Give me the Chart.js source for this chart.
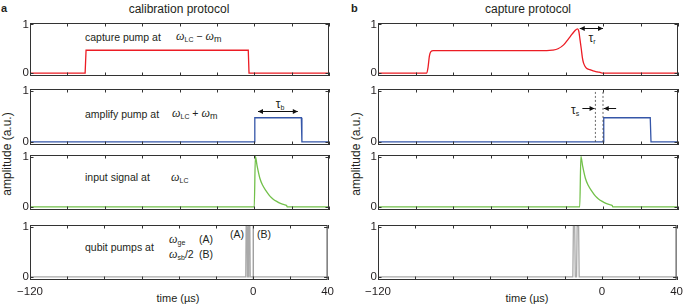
<!DOCTYPE html>
<html>
<head>
<meta charset="utf-8">
<script src="https://cdn.jsdelivr.net/npm/chart.js@4.4.1/dist/chart.umd.min.js"></script>
<style>
  body { margin: 0; background: #fff; }
  #fig { position: relative; width: 687px; height: 306px; overflow: hidden;
         font-family: "Liberation Sans", Arial, sans-serif; color: #231f20; }
  #fig canvas { position: absolute; }
  .t { position: absolute; white-space: nowrap; line-height: 1; transform: translateY(-50%); font-size: 10.5px; }
  .c { transform: translate(-50%, -50%); }
  .w { font-family: "Liberation Serif", serif; font-style: italic; font-size: 12px; }
  .s { font-size: 7px; vertical-align: -2px; font-style: normal; font-family: "Liberation Sans", sans-serif; }
  .ttl { font-size: 12px; }
  .lbl { font-weight: bold; font-size: 11px; }
  .yl { position: absolute; white-space: nowrap; font-size: 12px; transform: translate(-50%, -50%) rotate(-90deg); }
</style>
</head>
<body>
<div id="fig">
  <div class="t lbl" style="left:1px;top:8px">a</div>
  <div class="t lbl" style="left:351px;top:8px">b</div>
  <div class="t ttl c" style="left:179px;top:9px">calibration protocol</div>
  <div class="t ttl c" style="left:528px;top:9px">capture protocol</div>
  <div class="yl" style="left:7px;top:154px">amplitude (a.u.)</div>
  <div class="yl" style="left:356px;top:154px">amplitude (a.u.)</div>
  <div class="t c" style="left:178px;top:298px;font-size:11px">time (µs)</div>
  <div class="t c" style="left:527px;top:298px;font-size:11px">time (µs)</div>

  <div class="t" style="left:85px;top:37px">capture pump at</div>
  <div class="t" style="left:176px;top:37px"><span class="w">ω</span><span class="s">LC</span> − <span class="w">ω</span><span class="s" style="font-size:9px">m</span></div>
  <div class="t" style="left:85px;top:114px">amplify pump at</div>
  <div class="t" style="left:172px;top:114px"><span class="w">ω</span><span class="s">LC</span> + <span class="w">ω</span><span class="s" style="font-size:9px">m</span></div>
  <div class="t" style="left:85px;top:177px">input signal at</div>
  <div class="t" style="left:171px;top:177px"><span class="w">ω</span><span class="s">LC</span></div>
  <div class="t" style="left:85px;top:247px">qubit pumps at</div>
  <div class="t" style="left:169px;top:239px"><span class="w">ω</span><span class="s">ge</span></div>
  <div class="t" style="left:199px;top:239px">(A)</div>
  <div class="t" style="left:169px;top:254px"><span class="w">ω</span><span class="s">sb</span>/2</div>
  <div class="t" style="left:199px;top:254px">(B)</div>
  <div class="t" style="left:230px;top:234px">(A)</div>
  <div class="t" style="left:257px;top:234px">(B)</div>
  <div class="t c" style="left:280px;top:104px;font-size:12px">τ<span class="s">b</span></div>
  <div class="t c" style="left:592px;top:38px;font-size:12px">τ<span class="s">r</span></div>
  <div class="t c" style="left:575px;top:110px;font-size:12px">τ<span class="s">s</span></div>
</div>

<script>
// axis
const timeMin = -120, timeMax = 40, timeStep = 20;
const timeLabels = [-120, 0, 40];
const ampTicks = [0, 1];

// panel a: calibration protocol  [time µs, amplitude]
const calCapture = [[-120,0],[-90.5,0],[-90,0.47],[-3.2,0.47],[-2.8,0],[40,0]];
const calAmplify = [[-120,0],[0,0],[0.3,0.47],[25.2,0.47],[25.5,0],[40,0]];
const calSignal  = [[-120,0],[0,0],[0.6,1.0],[1.5,0.82],[3,0.57],[4.5,0.43],[6.5,0.31],[8.5,0.21],
                    [10,0.16],[12,0.11],[14,0.07],[16,0.045],[17.3,0.03],[17.6,0],[40,0]];
const calQubit   = [[-120,0],[-4.0,0],[-3.8,1],[-3.3,1],[-3.1,0],[-2.6,0],[-2.4,1],[-1.8,1],[-1.6,0],[40,0]];
const calZero    = [[0,-0.06],[0,1.03]];

// panel b: capture protocol
const capCapture = [[-120,0],[-94,0],[-93.3,0.12],[-92.6,0.35],[-91.8,0.44],[-90.5,0.46],[-30,0.46],
                    [-27,0.47],[-24,0.5],[-21,0.58],[-18.5,0.7],[-16.5,0.8],[-15,0.87],[-13.6,0.91],
                    [-12.9,0.86],[-12.3,0.7],[-11.6,0.5],[-11,0.32],[-10.4,0.21],[-9.6,0.14],[-8.8,0.1],
                    [-7,0.07],[-5.3,0.045],[-3,0.025],[-1,0.006],[0,0],[40,0]];
const capAmplify = [[-120,0],[0,0],[0.4,0.47],[25.2,0.47],[25.6,0],[40,0]];
const capSignal  = [[-120,0],[-12.4,0],[-11.8,1.0],[-10.9,0.82],[-9.4,0.57],[-7.9,0.43],[-5.9,0.31],
                    [-3.9,0.21],[-2.4,0.16],[-0.4,0.11],[1.6,0.07],[3.6,0.045],[4.9,0.03],[5.2,0],[40,0]];
const capQubit   = [[-120,0],[-15.6,0],[-15.3,1],[-14.6,1],[-14.3,0],[-13.6,0],[-13.3,1],[-12.5,1],[-12.2,0],[40,0]];
const capDashes  = [-4.1, 0];

// annotation arrows [from, to] in data units, heads at 'to' (and 'from' if both)
const arrowTauB  = { from: [2, 0.61], to: [23.3, 0.61], both: true };
const arrowTauR  = { from: [-12.4, 0.93], to: [0, 0.93], both: true };
const arrowTauS1 = { from: [-11, 0.66], to: [-4.5, 0.66] };
const arrowTauS2 = { from: [7, 0.66], to: [0.4, 0.66] };

const RED = '#ec1c24', BLUE = '#3556a8', GREEN = '#72c04a', GRAY = '#a9a9a9', INK = '#333';

Chart.defaults.font.family = '"Liberation Sans", Arial, sans-serif';
Chart.defaults.font.size = 11.5;
Chart.defaults.color = '#231f20';
Chart.defaults.animation = false;

const boxPlugin = {
  id: 'box',
  afterDatasetsDraw(chart) {
    const { ctx, chartArea: a, scales: { x, y } } = chart;
    ctx.save();
    ctx.strokeStyle = INK;
    ctx.lineWidth = 1;
    ctx.strokeRect(a.left + 0.5, a.top + 0.5, a.width - 1, a.height - 1);
    ctx.beginPath();
    x.ticks.forEach(t => {
      const px = Math.round(x.getPixelForValue(t.value)) + 0.5;
      ctx.moveTo(px, a.top); ctx.lineTo(px, a.top + 3.5);
      ctx.moveTo(px, a.bottom); ctx.lineTo(px, a.bottom - 3.5);
    });
    y.ticks.forEach(t => {
      const py = Math.round(y.getPixelForValue(t.value)) + 0.5;
      ctx.moveTo(a.left, py); ctx.lineTo(a.left + 3.5, py);
      ctx.moveTo(a.right, py); ctx.lineTo(a.right - 3.5, py);
    });
    ctx.stroke();
    ctx.restore();
  }
};

function head(ctx, x0, y0, x1, y1) {
  const ang = Math.atan2(y1 - y0, x1 - x0), L = 5, W = 2.4;
  ctx.beginPath();
  ctx.moveTo(x1, y1);
  ctx.lineTo(x1 - L * Math.cos(ang) + W * Math.sin(ang), y1 - L * Math.sin(ang) - W * Math.cos(ang));
  ctx.lineTo(x1 - L * Math.cos(ang) - W * Math.sin(ang), y1 - L * Math.sin(ang) + W * Math.cos(ang));
  ctx.closePath();
  ctx.fill();
}

const arrowPlugin = {
  id: 'arrows',
  afterDatasetsDraw(chart, args, opts) {
    const list = opts.items || [];
    const { ctx, scales: { x, y } } = chart;
    ctx.save();
    ctx.strokeStyle = '#111'; ctx.fillStyle = '#111'; ctx.lineWidth = 1;
    list.forEach(ar => {
      const x0 = x.getPixelForValue(ar.from[0]), y0 = Math.round(y.getPixelForValue(ar.from[1])) + 0.5;
      const x1 = x.getPixelForValue(ar.to[0]),   y1 = Math.round(y.getPixelForValue(ar.to[1])) + 0.5;
      ctx.beginPath(); ctx.moveTo(x0, y0); ctx.lineTo(x1, y1); ctx.stroke();
      head(ctx, x0, y0, x1, y1);
      if (ar.both) head(ctx, x1, y1, x0, y0);
    });
    ctx.restore();
  }
};

function line(data, color, extra) {
  return Object.assign({ data, borderColor: color, borderWidth: 1.3, pointRadius: 0, tension: 0, fill: false }, extra || {});
}

const panels = { a: [30, 329], b: [378, 678] };
const rows = [[23, 76], [89, 145], [155, 210], [225, 280]];
const fig = document.getElementById('fig');

function makeChart(panel, row, datasets, arrows) {
  const [L, R] = panels[panel];
  const [T, B] = rows[row];
  const last = row === rows.length - 1;
  const padL = 24, pad = 10, xh = 30;
  const W = R - L, H = B - T;
  const cv = document.createElement('canvas');
  const cw = W + padL + pad, ch = H + pad + (last ? xh + 2 : pad);
  cv.style.left = (L - padL) + 'px';
  cv.style.top = (T - pad) + 'px';
  cv.style.width = cw + 'px';
  cv.style.height = ch + 'px';
  cv.width = cw; cv.height = ch;
  fig.appendChild(cv);
  new Chart(cv, {
    type: 'line',
    data: { datasets },
    plugins: [boxPlugin, arrowPlugin],
    options: {
      responsive: false,
      devicePixelRatio: 1,
      layout: { padding: { left: 0, right: pad, top: pad, bottom: last ? 2 : pad } },
      plugins: { legend: { display: false }, tooltip: { enabled: false }, arrows: { items: arrows || [] } },
      scales: {
        x: {
          type: 'linear', min: timeMin, max: timeMax, display: last,
          grid: { display: false, drawTicks: false }, border: { display: false },
          ticks: {
            stepSize: timeStep, autoSkip: false, maxRotation: 0, padding: 5,
            callback: v => timeLabels.includes(v) ? String(v).replace('-', '\u2212') : ''
          },
          afterFit: s => { s.height = last ? xh : 0; }
        },
        y: {
          type: 'linear', min: -0.06, max: 1.03,
          grid: { display: false, drawTicks: false }, border: { display: false },
          ticks: { padding: 1 },
          afterBuildTicks: s => { s.ticks = ampTicks.map(v => ({ value: v })); },
          afterFit: s => { s.width = padL; }
        }
      }
    }
  });
}

makeChart('a', 0, [line(calCapture, RED)]);
makeChart('a', 1, [line(calAmplify, BLUE)], [arrowTauB]);
makeChart('a', 2, [line(calSignal, GREEN, { cubicInterpolationMode: 'monotone' })]);
makeChart('a', 3, [line(calZero, '#555', { borderWidth: 0.8 }), line(calQubit, GRAY)]);

makeChart('b', 0, [line(capCapture, RED, { cubicInterpolationMode: 'monotone' })], [arrowTauR]);
makeChart('b', 1, [
  ...capDashes.map(t => line([[t, 0], [t, 1.03]], '#444', { borderWidth: 0.8, borderDash: [2, 2] })),
  line(capAmplify, BLUE)
], [arrowTauS1, arrowTauS2]);
makeChart('b', 2, [line(capSignal, GREEN, { cubicInterpolationMode: 'monotone' })]);
makeChart('b', 3, [line(capQubit, GRAY)]);
</script>
</body>
</html>
